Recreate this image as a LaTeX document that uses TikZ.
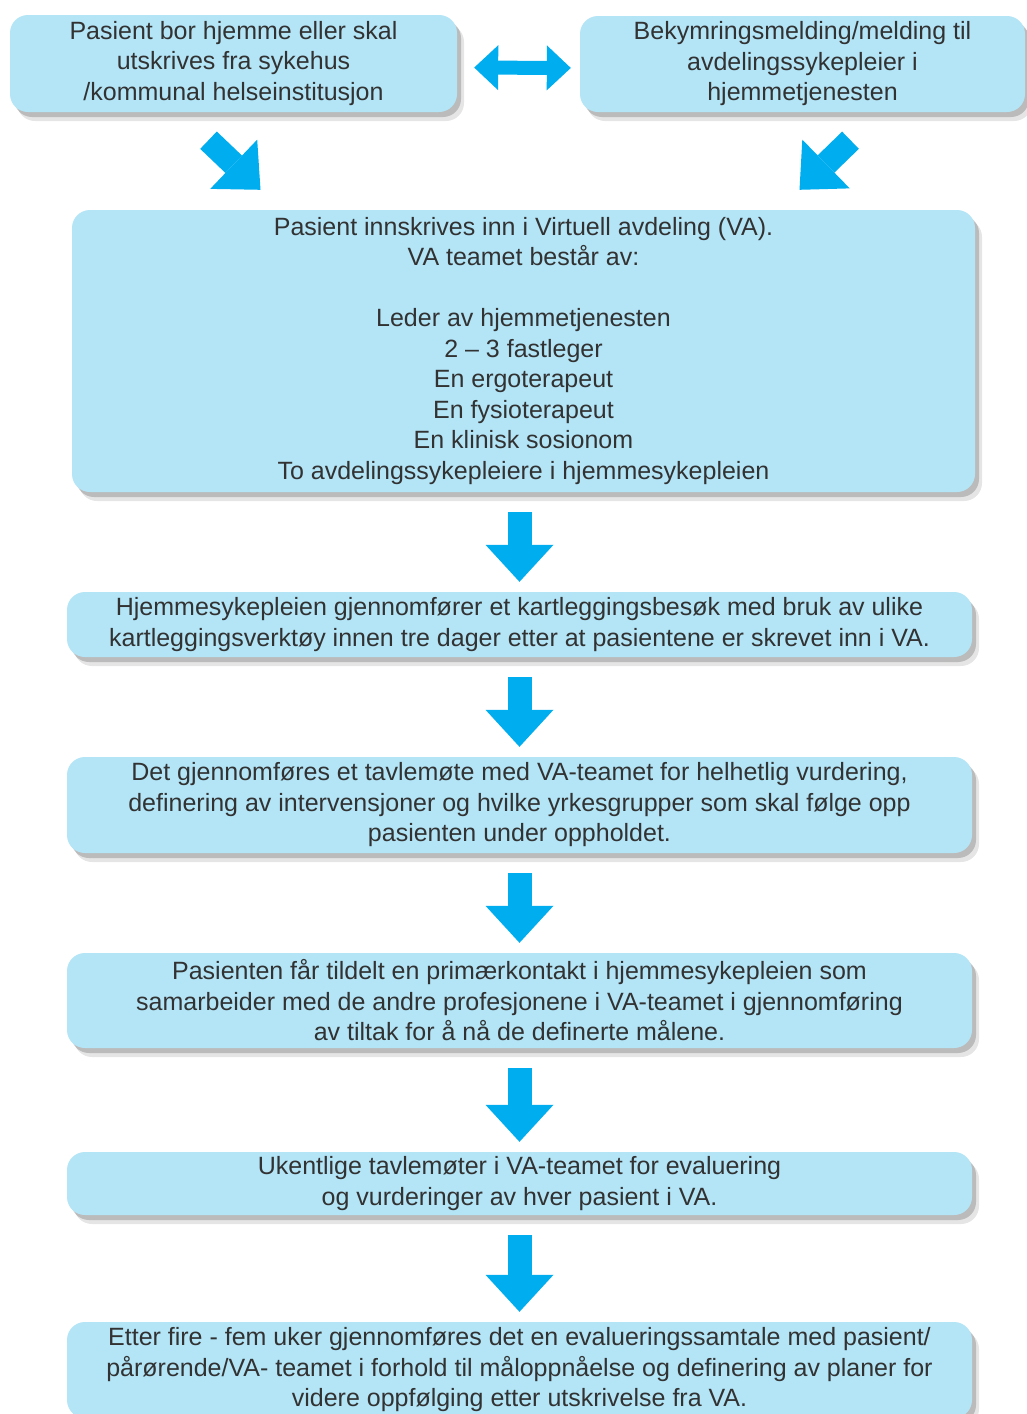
\documentclass[tikz,border=0pt]{standalone}
\usepackage{fontspec}
\setmainfont{Liberation Sans}
\usetikzlibrary{arrows.meta}
\usetikzlibrary{shadows}
\definecolor{vaPaleBlue}{RGB}{179,229,247}
\definecolor{vaCyan}{RGB}{0,174,239}
\definecolor{vaGrey}{RGB}{50,50,50}
\colorlet{ColourBox}{vaPaleBlue}
\colorlet{ColourArrow}{vaCyan}
\colorlet{ColourText}{vaGrey}
\tikzset{
  flow style/.style={
    x=1pt, y=-1pt,
    font=\fontsize{25}{30.5}\selectfont,
  },
  flow box/.style={
    fill=ColourBox,
    text=ColourText,
    rounded corners=18pt,
    align=center,
    inner sep=0pt,
    minimum width=#1,
    drop shadow={shadow xshift=7pt, shadow yshift=-9pt, opacity=0.10, fill=black},
    drop shadow={shadow xshift=4pt, shadow yshift=-5pt, opacity=0.18, fill=black},
  },
  flow box/.default=905pt,
  flow arrow/.style={
    draw=ColourArrow,
    line width=24pt,
    -{Triangle[width=68pt,length=37pt,line width=0pt]},
  },
  down arrow/.style={
    flow arrow,
    shorten <=20pt,
    shorten >=10pt,
  },
  twoway arrow/.style={
    draw=ColourArrow,
    line width=14pt,
    {Triangle[width=45pt,length=24pt,line width=0pt]}-{Triangle[width=45pt,length=24pt,line width=0pt]},
  },
}

\begin{document}
\begin{tikzpicture}[flow style]
  \clip (0,0) rectangle (1027,1414);
  \fill[white] (0,0) rectangle (1027,1414);

  % start of the pathway
  \node[flow box=447pt, minimum height=97pt] (home) at (233.5,63.5)
    {Pasient bor hjemme eller skal\\ utskrives fra sykehus\\ /kommunal helseinstitusjon};
  \node[flow box=445pt, minimum height=96pt] (report) at (802.5,64)
    {Bekymringsmelding/melding til\\ avdelingssykepleier i\\ hjemmetjenesten};

  \node[flow box=903pt, minimum height=282pt] (team) at (523.5,351)
    {Pasient innskrives inn i Virtuell avdeling (VA).\\ VA teamet består av:\\[30.5pt]
     Leder av hjemmetjenesten\\ 2 – 3 fastleger\\ En ergoterapeut\\ En fysioterapeut\\
     En klinisk sosionom\\ To avdelingssykepleiere i hjemmesykepleien};

  \node[flow box, minimum height=65pt] (survey) at (519.5,624.5)
    {Hjemmesykepleien gjennomfører et kartleggingsbesøk med bruk av ulike\\
     kartleggingsverktøy innen tre dager etter at pasientene er skrevet inn i VA.};
  \node[flow box, minimum height=96pt] (board) at (519.5,805)
    {Det gjennomføres et tavlemøte med VA-teamet for helhetlig vurdering,\\
     definering av intervensjoner og hvilke yrkesgrupper som skal følge opp\\
     pasienten under oppholdet.};
  \node[flow box, minimum height=95pt] (contact) at (519.5,1000.5)
    {Pasienten får tildelt en primærkontakt i hjemmesykepleien som\\
     samarbeider med de andre profesjonene i VA-teamet i gjennomføring\\
     av tiltak for å nå de definerte målene.};
  \node[flow box, minimum height=63pt] (weekly) at (519.5,1183.5)
    {Ukentlige tavlemøter i VA-teamet for evaluering\\
     og vurderinger av hver pasient i VA.};
  \node[flow box, minimum height=96pt] (final) at (519.5,1370)
    {Etter fire - fem uker gjennomføres det en evalueringssamtale med pasient/\\
     pårørende/VA- teamet i forhold til måloppnåelse og definering av planer for\\
     videre oppfølging etter utskrivelse fra VA.};

  % arrows
  \draw[twoway arrow] ([yshift=-4pt]home.east) -- ([yshift=-4pt]report.west)
    [shorten <=17pt, shorten >=9pt];
  \draw[flow arrow] ([shift={(-25,28)}]home.south)
    -- ([shift={(27,-20)}]home.south |- team.north);
  \draw[flow arrow] ([shift={(48,28)}]report.south)
    -- ([shift={(-3,-20)}]report.south |- team.north);
  \draw[down arrow] (team.south -| survey.north) -- (survey);
  \draw[down arrow] (survey) -- (board);
  \draw[down arrow] (board) -- (contact);
  \draw[down arrow] (contact) -- (weekly);
  \draw[down arrow] (weekly) -- (final);
\end{tikzpicture}
\end{document}
